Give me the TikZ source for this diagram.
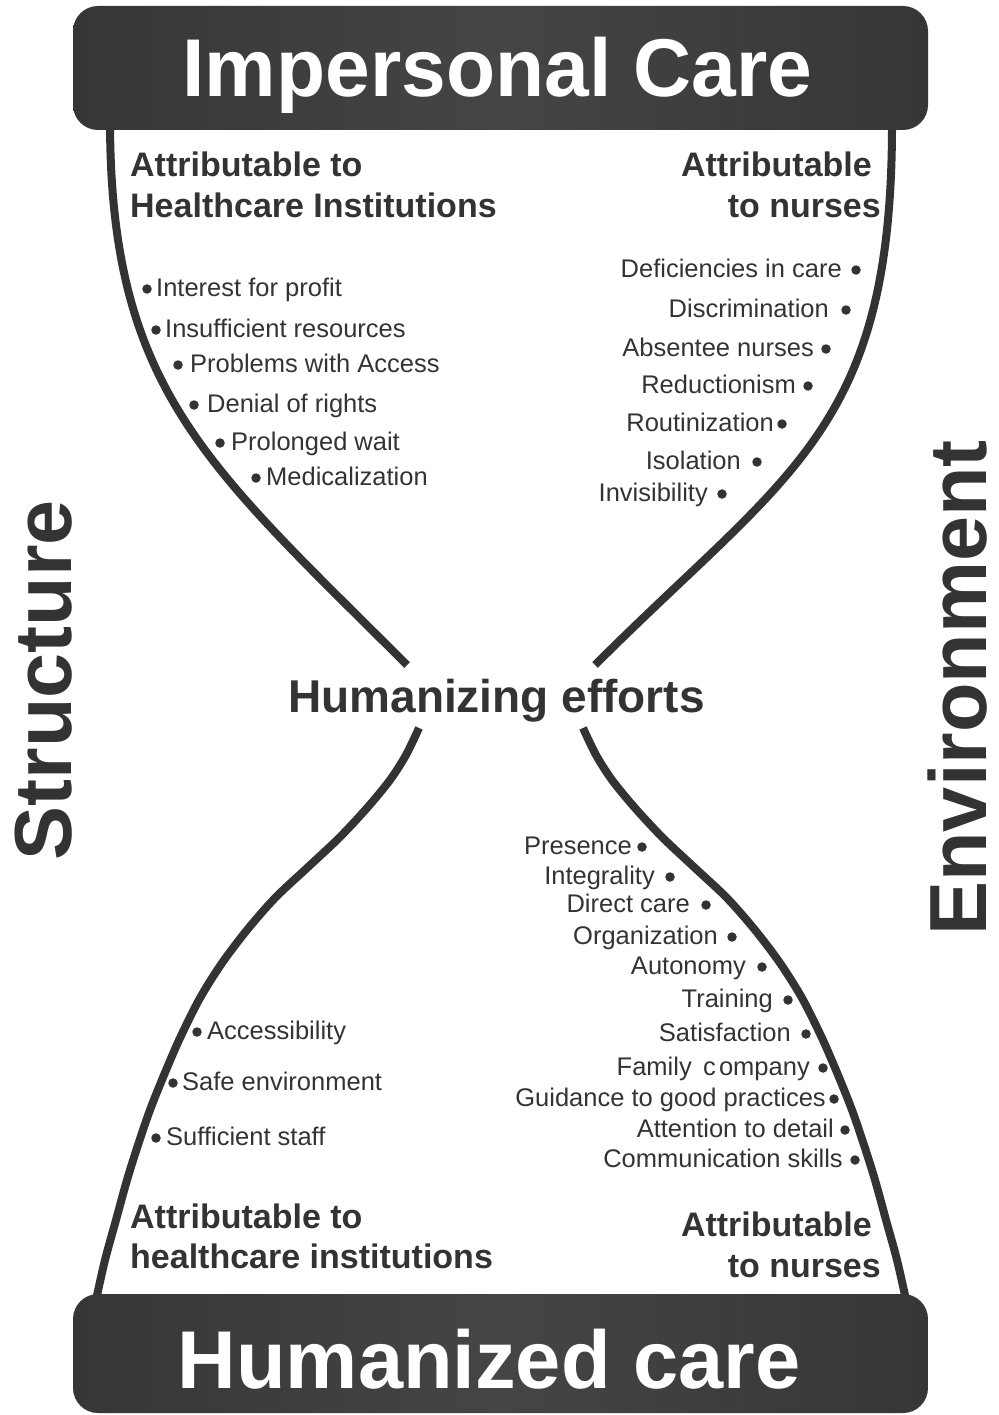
\documentclass[tikz,border=0pt]{standalone}
\usepackage{fontspec}
\setmainfont{Liberation Sans}

\definecolor{ink}{HTML}{333333}
\definecolor{bardark}{HTML}{363636}
\definecolor{barlight}{HTML}{454545}

\tikzset{
  itemtext/.style={text=ink, font=\fontsize{25.5}{30}\selectfont, inner sep=0pt},
  headtext/.style={text=ink, font=\bfseries\fontsize{34}{41}\selectfont, inner sep=0pt},
  midtext/.style={text=ink, font=\bfseries\fontsize{46}{52}\selectfont, inner sep=0pt},
  bartext/.style={text=white, font=\bfseries\fontsize{82}{90}\selectfont, inner sep=0pt},
  sidetext/.style={text=ink, font=\bfseries\fontsize{81}{90}\selectfont, inner sep=0pt, rotate=90},
  glass/.style={draw=ink, line width=8pt},
  dot/.style={circle, fill=ink, inner sep=0pt, minimum size=9.5pt},
  bar/.style={rounded corners=25pt, left color=bardark, right color=bardark, middle color=barlight}
}

% bullet items: name, dot x, text edge x, baseline y, text
\newcommand\hgLeftItem[5]{%
  \node[dot] (#1dot) at (#2,{#4-7}) {};
  \node[itemtext, anchor=base west] (#1) at (#3,#4) {#5};}
\newcommand\hgRightItem[5]{%
  \node[dot] (#1dot) at (#2,{#4-7}) {};
  \node[itemtext, anchor=base east] (#1) at (#3,#4) {#5};}

\begin{document}
\begin{tikzpicture}[x=1pt, y=-1pt]
\useasboundingbox (0,0) rectangle (998,1415);

% hourglass outline: upper halves
\draw[glass] (110,120) .. controls (110,390) and (207,465) .. (407,665);
\draw[glass] (892,120) .. controls (893,430) and (790,470) .. (595,665);
% lower halves
\draw[glass] plot[smooth, tension=0.5] coordinates {
  (419,728) (406,755) (390,780) (367,808) (339,838) (307,868) (275,898)
  (247,930) (222,963) (200,998) (180,1038) (164,1075) (150,1110)
  (138,1145) (127,1180) (116,1220) (105,1260) (96,1300) (95,1306)};
\draw[glass] plot[smooth, tension=0.5] coordinates {
  (583,728) (596,755) (612,780) (635,808) (663,838) (695,868) (727,898)
  (755,930) (780,963) (802,998) (822,1038) (838,1075) (852,1110)
  (864,1145) (875,1180) (886,1220) (897,1260) (906,1300) (907,1306)};

% top and bottom bars
\shade[bar] (73,6) rectangle (928,130);
\shade[bar] (73,1294) rectangle (928,1413);
\node[bartext, anchor=base] (impersonal) at (497.5,97) {\scalebox{0.98}[1]{Impersonal Care}};
\node[bartext, anchor=base] (humanized) at (489,1388) {\scalebox{0.99}[1]{Humanized care}};

% side labels
\node[sidetext] (structure) at (44,680) {Structure};
\node[sidetext] (environment) at (958,688) {Environment};

% centre label
\node[midtext, anchor=base] (efforts) at (496.5,712) {Humanizing efforts};

% headings
\node[headtext, anchor=base west] (instTopA) at (130,177) {Attributable to};
\node[headtext, anchor=base west] (instTopB) at (130,218) {Healthcare Institutions};
\node[headtext, anchor=base east] (nurTopA) at (872,177) {Attributable};
\node[headtext, anchor=base east] (nurTopB) at (881,218) {to nurses};
\node[headtext, anchor=base west] (instBotA) at (130,1228) {Attributable to};
\node[headtext, anchor=base west] (instBotB) at (130,1268) {healthcare institutions};
\node[headtext, anchor=base east] (nurBotA) at (872,1236) {Attributable};
\node[headtext, anchor=base east] (nurBotB) at (881,1277) {to nurses};

% impersonal care, institutions
\hgLeftItem{profit}{147}{156}{296}{Interest for profit}
\hgLeftItem{resources}{156}{165}{337}{Insufficient resources}
\hgLeftItem{access}{178}{190}{372}{Problems with Access}
\hgLeftItem{rights}{194}{207}{412}{Denial of rights}
\hgLeftItem{wait}{220}{231}{450}{Prolonged wait}
\hgLeftItem{medical}{256}{266}{485}{Medicalization}

% impersonal care, nurses
\hgRightItem{deficiencies}{856}{842}{277}{Deficiencies in care}
\hgRightItem{discrimination}{846}{829}{317}{Discrimination}
\hgRightItem{absentee}{826}{814}{356}{Absentee nurses}
\hgRightItem{reductionism}{808}{796}{393}{Reductionism}
\hgRightItem{routinization}{782}{774}{431}{Routinization}
\hgRightItem{isolation}{757}{741}{469}{Isolation}
\hgRightItem{invisibility}{722}{708}{501}{Invisibility}

% humanized care, institutions
\hgLeftItem{accessibility}{197}{207}{1039}{Accessibility}
\hgLeftItem{safe}{173}{182}{1090}{Safe environment}
\hgLeftItem{staff}{156}{166}{1145}{Sufficient staff}

% humanized care, nurses
\hgRightItem{presence}{642}{632}{854}{Presence}
\hgRightItem{integrality}{670}{655}{884}{Integrality}
\hgRightItem{direct}{706}{690}{912}{Direct care}
\hgRightItem{organization}{732}{718}{944}{Organization}
\hgRightItem{autonomy}{762}{746}{974}{Autonomy}
\hgRightItem{training}{788}{773}{1007}{Training}
\hgRightItem{satisfaction}{806}{791}{1041}{Satisfaction}
\hgRightItem{family}{823}{810}{1075}{Family\hspace{0.45em}c\hspace{0.12em}ompany}
\hgRightItem{guidance}{834}{826}{1106}{Guidance to good practices}
\hgRightItem{detail}{845}{834}{1137}{Attention to detail}
\hgRightItem{communication}{855}{843}{1167}{Communication skills}
\end{tikzpicture}
\end{document}
